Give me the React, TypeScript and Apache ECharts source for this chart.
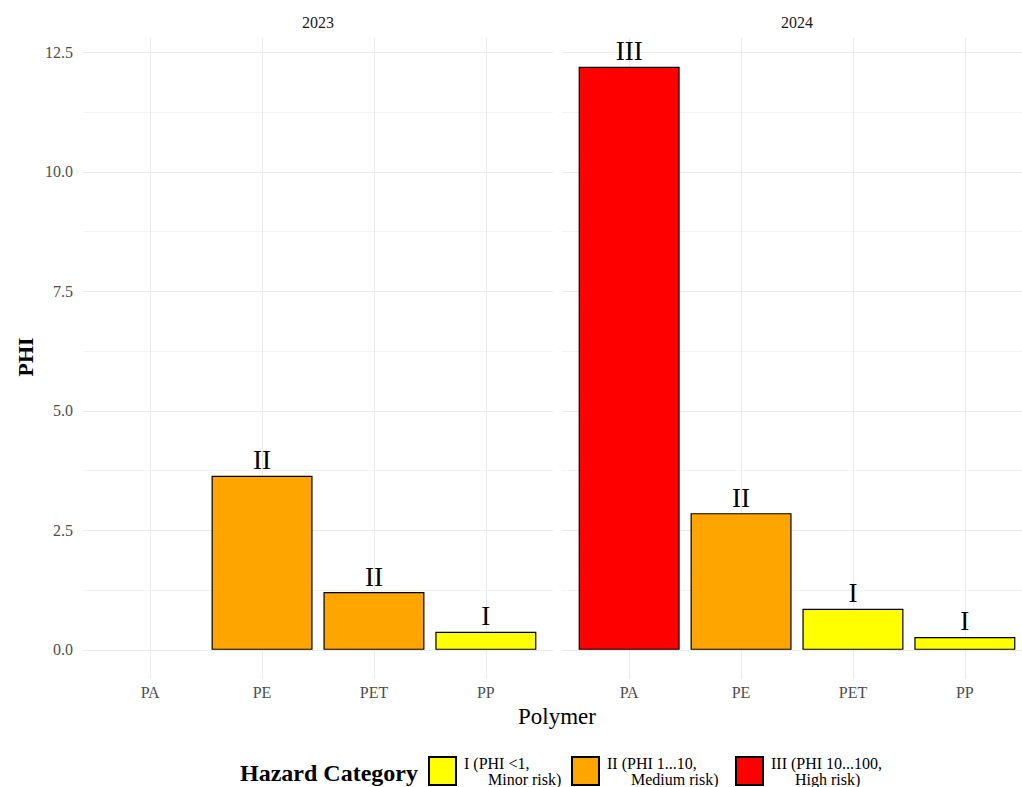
import React, { useEffect, useRef } from "react";
import * as echarts from "echarts";

const categories = ["PA", "PE", "PET", "PP"];
const years = ["2023", "2024"];
const phi2023: (number | null)[] = [null, 3.64, 1.21, 0.38];
const phi2024: (number | null)[] = [12.2, 2.86, 0.86, 0.27];
const hazard2023: (string | null)[] = [null, "II", "II", "I"];
const hazard2024: (string | null)[] = ["III", "II", "I", "I"];
const hazardCodes = ["I", "II", "III"];
const hazardNames = ["I (PHI <1,\nMinor risk)", "II (PHI 1...10,\nMedium risk)", "III (PHI 10...100,\nHigh risk)"];
const hazardColors = ["#FFFF00", "#FFA500", "#FF0000"];
const yMajorTicks = [0, 2.5, 5, 7.5, 10, 12.5];
const yAllTicks = [0, 1.25, 2.5, 3.75, 5, 6.25, 7.5, 8.75, 10, 11.25, 12.5];

const FONT = "Liberation Serif";

export default function App() {
  const ref = useRef<HTMLDivElement>(null);
  useEffect(() => {
    if (!ref.current) return;
    const chart = echarts.init(ref.current, null, { renderer: "svg" });
    const panels = [
      { phi: phi2023, hz: hazard2023 },
      { phi: phi2024, hz: hazard2024 },
    ];
    const gridLefts = [83, 562];
    const grids = gridLefts.map((l) => ({ left: l, top: 38, width: 470, height: 641 }));
    const xAxes = panels.map((_, p) => ({
      type: "value",
      gridIndex: p,
      min: 0.4,
      max: 4.6,
      axisLine: { show: false },
      axisTick: { show: false, customValues: [1, 2, 3, 4] },
      axisLabel: {
        customValues: [1, 2, 3, 4],
        formatter: (v: number) => categories[Math.round(v) - 1] ?? "",
        color: "#4d4d4d",
        fontSize: 16,
        fontFamily: FONT,
        margin: 5,
      },
      splitLine: { show: true, lineStyle: { color: "#ebebeb", width: 1 } },
    }));
    const yAxes = panels.map((_, p) => ({
      type: "value",
      gridIndex: p,
      min: -0.61,
      max: 12.8,
      axisLine: { show: false },
      axisTick: { show: false, customValues: yAllTicks },
      axisLabel: {
        show: p === 0,
        customValues: yMajorTicks,
        formatter: (v: number) => v.toFixed(1),
        color: "#4d4d4d",
        fontSize: 16,
        fontFamily: FONT,
        margin: 10,
      },
      splitLine: { show: true, lineStyle: { color: ["#ebebeb", "#f3f3f3"], width: 1 } },
    }));
    const series: any[] = [];
    panels.forEach((panel, p) => {
      hazardCodes.forEach((code, h) => {
        const data: any[] = [];
        panel.hz.forEach((hz, i) => {
          if (hz === code && panel.phi[i] != null) data.push([i + 1, panel.phi[i]]);
        });
        series.push({
          type: "bar",
          name: hazardNames[h],
          xAxisIndex: p,
          yAxisIndex: p,
          barWidth: 101,
          barGap: "-100%",
          data,
          itemStyle: { color: hazardColors[h], borderColor: "#000", borderWidth: 1.2 },
          label: {
            show: true,
            position: "top",
            distance: 2,
            formatter: () => code,
            color: "#000",
            fontSize: 27,
            fontFamily: FONT,
          },
        });
      });
    });
    const legendLefts = [423, 566, 730];
    const legends = hazardNames.map((n, h) => ({
      data: [n],
      left: legendLefts[h],
      top: 750,
      orient: "horizontal",
      itemWidth: 27,
      itemHeight: 28,
      icon: "rect",
      selectedMode: false,
      formatter: (name: string) => {
        const parts = name.split("\n");
        return `{a|${parts[0]}}\n{b|${parts[1]}}`;
      },
      textStyle: {
        fontFamily: FONT,
        fontSize: 16,
        color: "#000",
        padding: [0, 0, 0, 3],
        rich: {
          a: { fontFamily: FONT, fontSize: 16, color: "#000", align: "left", lineHeight: 16 },
          b: { fontFamily: FONT, fontSize: 16, color: "#000", align: "left", lineHeight: 16, padding: [0, 0, 0, 24] },
        },
      },
    }));
    chart.setOption({
      animation: false,
      backgroundColor: "#fff",
      grid: grids,
      xAxis: xAxes,
      yAxis: yAxes,
      series,
      legend: legends,
      graphic: [
        { type: "text", x: 83 + 235, y: 22, style: { text: years[0], font: `16px '${FONT}'`, fill: "#1a1a1a", align: "center", verticalAlign: "middle" } },
        { type: "text", x: 562 + 235, y: 22, style: { text: years[1], font: `16px '${FONT}'`, fill: "#1a1a1a", align: "center", verticalAlign: "middle" } },
        { type: "text", x: 557, y: 716, style: { text: "Polymer", font: `23px '${FONT}'`, fill: "#000", align: "center", verticalAlign: "middle" } },
        { type: "text", x: 25, y: 357, rotation: Math.PI / 2, style: { text: "PHI", font: `bold 22px '${FONT}'`, fill: "#000", align: "center", verticalAlign: "middle" } },
        { type: "text", x: 418, y: 773, style: { text: "Hazard Category", font: `bold 24px '${FONT}'`, fill: "#000", align: "right", verticalAlign: "middle" } },
      ],
    });
    return () => chart.dispose();
  }, []);
  return (
    <div style={{ position: "absolute", left: 0, top: 0, width: 1022, height: 787, overflow: "hidden" }}>
      <div ref={ref} style={{ width: 1050, height: 787 }} />
    </div>
  );
}
